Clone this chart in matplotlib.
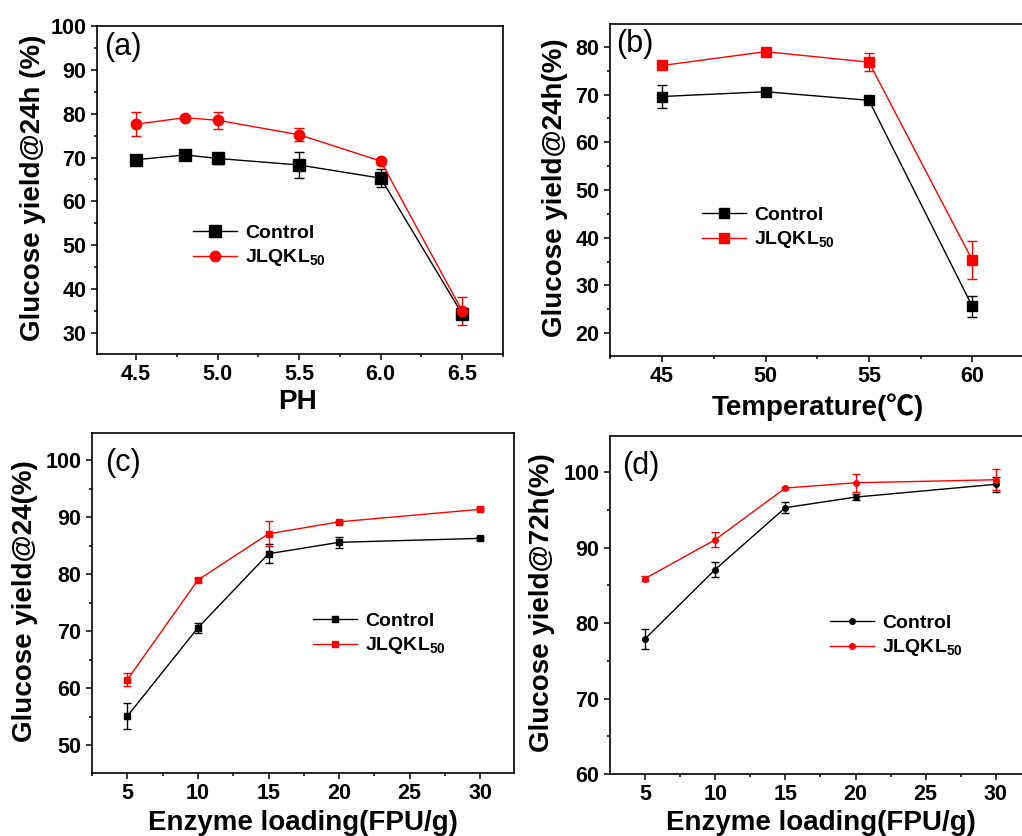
import matplotlib
matplotlib.use("Agg")
import matplotlib.pyplot as plt
from matplotlib.ticker import MultipleLocator

plt.rcParams['font.family'] = ['Liberation Sans', 'DejaVu Sans']
plt.rcParams['font.weight'] = 'bold'
plt.rcParams['mathtext.fontset'] = 'custom'
plt.rcParams['mathtext.rm'] = 'Liberation Sans:bold'
plt.rcParams['mathtext.it'] = 'Liberation Sans:bold'
plt.rcParams['mathtext.bf'] = 'Liberation Sans:bold'

# ---------------- data ----------------
ph = [4.5, 4.8, 5.0, 5.5, 6.0, 6.5]
ph_control = [69.5, 70.6, 69.8, 68.3, 65.3, 34.3]
ph_control_err = [0.4, 0.4, 1.2, 3.0, 2.1, 0.8]
ph_jlqkl = [77.6, 79.1, 78.5, 75.2, 69.2, 35.0]
ph_jlqkl_err = [2.7, 0.3, 1.9, 1.5, 0.8, 3.3]
ph_ticks = [4.5, 5.0, 5.5, 6.0, 6.5]

temp = [45, 50, 55, 60]
temp_control = [69.6, 70.6, 68.8, 25.6]
temp_control_err = [2.4, 0.4, 0.5, 2.2]
temp_jlqkl = [76.1, 79.0, 76.8, 35.3]
temp_jlqkl_err = [0.4, 0.4, 1.9, 4.0]

load = [5, 10, 15, 20, 30]
load24_control = [55.1, 70.6, 83.6, 85.6, 86.3]
load24_control_err = [2.3, 0.85, 1.7, 1.0, 0.3]
load24_jlqkl = [61.5, 79.0, 87.1, 89.2, 91.4]
load24_jlqkl_err = [1.1, 0.3, 2.2, 0.2, 0.2]

load72_control = [77.9, 87.1, 95.3, 96.7, 98.4]
load72_control_err = [1.3, 1.0, 0.7, 0.4, 1.0]
load72_jlqkl = [85.9, 91.05, 97.9, 98.6, 99.0]
load72_jlqkl_err = [0.35, 1.0, 0.15, 1.2, 1.4]

labels = ['Control', 'JLQKL$_{50}$']

W, H = 1022, 836
fig = plt.figure(figsize=(W / 100, H / 100), dpi=100)


def add_ax(l, r, t, b):
    return fig.add_axes([l / W, 1 - b / H, (r - l) / W, (b - t) / H])


def style(ax, xlim, ylim, xmaj, xmin, ymaj, ymin):
    ax.set_xlim(*xlim)
    ax.set_ylim(*ylim)
    ax.xaxis.set_major_locator(MultipleLocator(xmaj))
    ax.xaxis.set_minor_locator(MultipleLocator(xmin))
    ax.yaxis.set_major_locator(MultipleLocator(ymaj))
    ax.yaxis.set_minor_locator(MultipleLocator(ymin))
    ax.tick_params(which='both', direction='out', top=False, right=False, width=1.1)
    ax.tick_params(which='major', length=4.5, labelsize=15.5, pad=3)
    ax.tick_params(which='minor', length=2.5)
    for lab in ax.get_xticklabels() + ax.get_yticklabels():
        lab.set_fontweight('bold')
    for s in ax.spines.values():
        s.set_linewidth(1.2)


def legend(ax, handles, x, y):
    fs_px = 14 * 100 / 72
    ax.legend(handles=handles, labels=labels, loc='upper left',
              bbox_to_anchor=(x / W, 1 - (y - 11) / H),
              bbox_transform=fig.transFigure, frameon=False, borderpad=0,
              borderaxespad=0, handlelength=44 / fs_px, handletextpad=8 / fs_px,
              labelspacing=0.3, prop={'weight': 'bold', 'size': 14})


def plot_pair(ax, x, c, ce, j, je, mc, mj, msc, msj, cap):
    e1 = ax.errorbar(x, c, yerr=ce, color='black', marker=mc, markersize=msc, lw=1,
                     elinewidth=1, capsize=cap, capthick=1)
    e2 = ax.errorbar(x, j, yerr=je, color='red', marker=mj, markersize=msj, lw=1,
                     elinewidth=1, capsize=cap, capthick=1)
    return [e1[0], e2[0]]


# (a)
ax = add_ax(97, 503, 26, 354)
h = plot_pair(ax, ph, ph_control, ph_control_err, ph_jlqkl, ph_jlqkl_err, 's', 'o', 8, 7.5, 3.5)
style(ax, (4.26, 6.75), (25.2, 100), 0.5, 0.25, 10, 5)
ax.set_xticks(ph_ticks)
legend(ax, h, 193, 235)

# (b)
ax = add_ax(610, 1024, 24, 356)
h = plot_pair(ax, temp, temp_control, temp_control_err, temp_jlqkl, temp_jlqkl_err, 's', 's', 7, 7, 3.5)
style(ax, (42.48, 62.5), (15.2, 84.8), 5, 2.5, 10, 5)
legend(ax, h, 702, 217)

# (c)
ax = add_ax(92, 514, 433, 773)
h = plot_pair(ax, load, load24_control, load24_control_err, load24_jlqkl, load24_jlqkl_err, 's', 's', 4, 4, 3)
style(ax, (2.49, 32.4), (45.1, 104.8), 5, 2.5, 10, 5)
legend(ax, h, 313, 623)

# (d)
ax = add_ax(610, 1024, 436, 774)
h = plot_pair(ax, load, load72_control, load72_control_err, load72_jlqkl, load72_jlqkl_err, 'o', 'o', 4, 4, 3)
style(ax, (2.51, 32.0), (60, 104.8), 5, 2.5, 10, 5)
legend(ax, h, 830, 625)


def ftext(x, y, s, **kw):
    fig.text(x / W, 1 - y / H, s, ha='center', va='center', **kw)


ftext(123, 47, '(a)', fontsize=22, fontweight='normal')
ftext(635, 44, '(b)', fontsize=22, fontweight='normal')
ftext(123, 463, '(c)', fontsize=22, fontweight='normal')
ftext(641, 466, '(d)', fontsize=22, fontweight='normal')

lab_kw = dict(fontsize=20, fontweight='bold')
ftext(33, 188, 'Glucose yield@24h (%)', rotation=90, **lab_kw)
ftext(555, 188, 'Glucose yield@24h(%)', rotation=90, **lab_kw)
ftext(25, 601, 'Glucose yield@24(%)', rotation=90, **lab_kw)
ftext(542, 603, 'Glucose yield@72h(%)', rotation=90, **lab_kw)

ftext(297, 402, 'PH', **lab_kw)
ftext(818, 407, 'Temperature(℃)', family=['Liberation Sans', 'Noto Sans CJK SC'], **lab_kw)
ftext(303, 823, 'Enzyme loading(FPU/g)', **lab_kw)
ftext(821, 823, 'Enzyme loading(FPU/g)', **lab_kw)

fig.savefig('out.png', dpi=100)
